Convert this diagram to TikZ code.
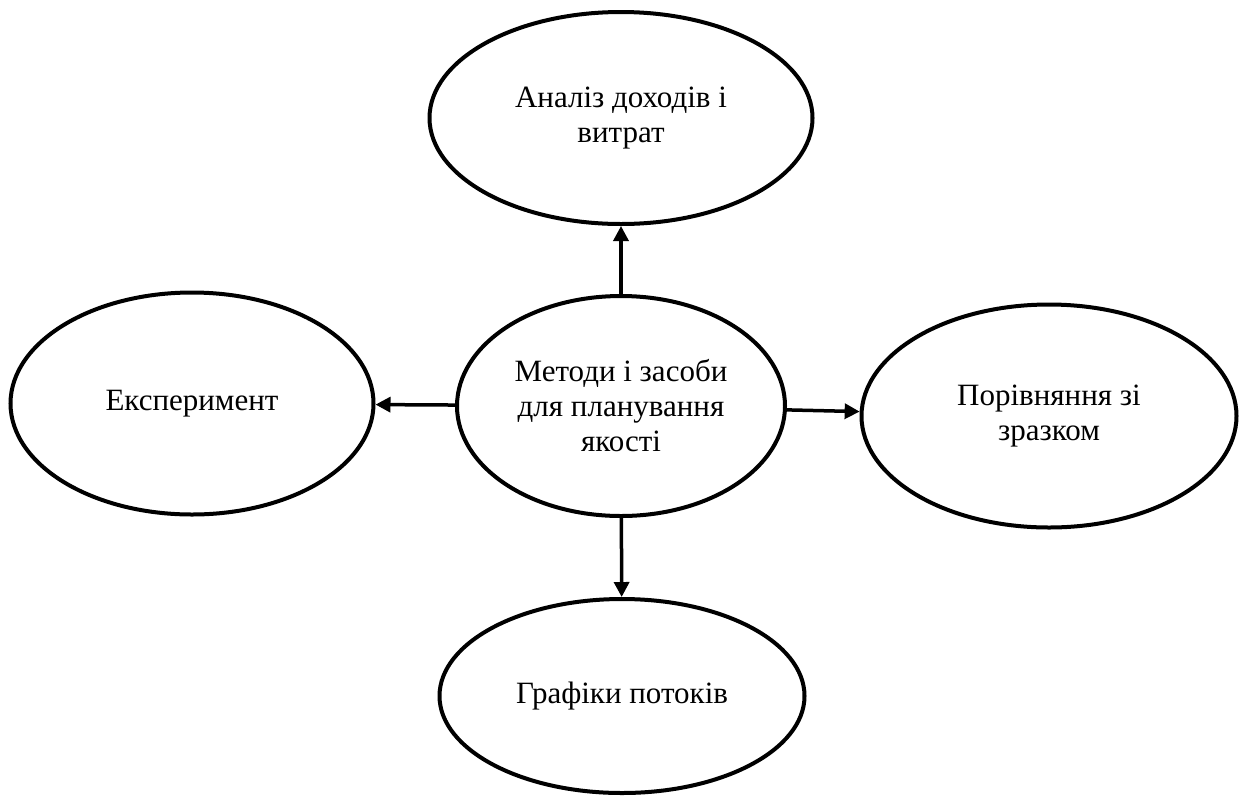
\documentclass[tikz,border=0pt]{standalone}
\usepackage{fontspec}
\setmainfont{Liberation Serif}
\usetikzlibrary{shapes.geometric,arrows.meta}
\tikzset{
  oval/.style={draw, ellipse, line width=4pt, inner sep=0pt, align=center,
    font=\fontsize{31}{35}\selectfont},
  link/.style={line width=3.5pt, -{Triangle[length=15pt,width=15pt]}}
}
\begin{document}
\begin{tikzpicture}[x=1pt,y=-1pt]
\useasboundingbox (0,0) rectangle (1239,796);
\node[oval, minimum width=383pt, minimum height=212pt] (top) at (621,118) {Аналіз доходів і\\витрат};
\node[oval, minimum width=363pt, minimum height=222pt] (left) at (192,403.5) {Експеримент};
\node[oval, minimum width=328pt, minimum height=220pt] (mid) at (621,406) {Методи і засоби\\для планування\\якості};
\node[oval, minimum width=375pt, minimum height=223pt] (right) at (1049,416) {Порівняння зі\\зразком};
\node[oval, minimum width=365pt, minimum height=194pt] (bot) at (622,696) {Графіки потоків};
\draw[link] (mid) -- (top);
\draw[link] (mid) -- (left);
\draw[link] (mid) -- (right);
\draw[link] (mid) -- (bot);
\end{tikzpicture}
\end{document}
